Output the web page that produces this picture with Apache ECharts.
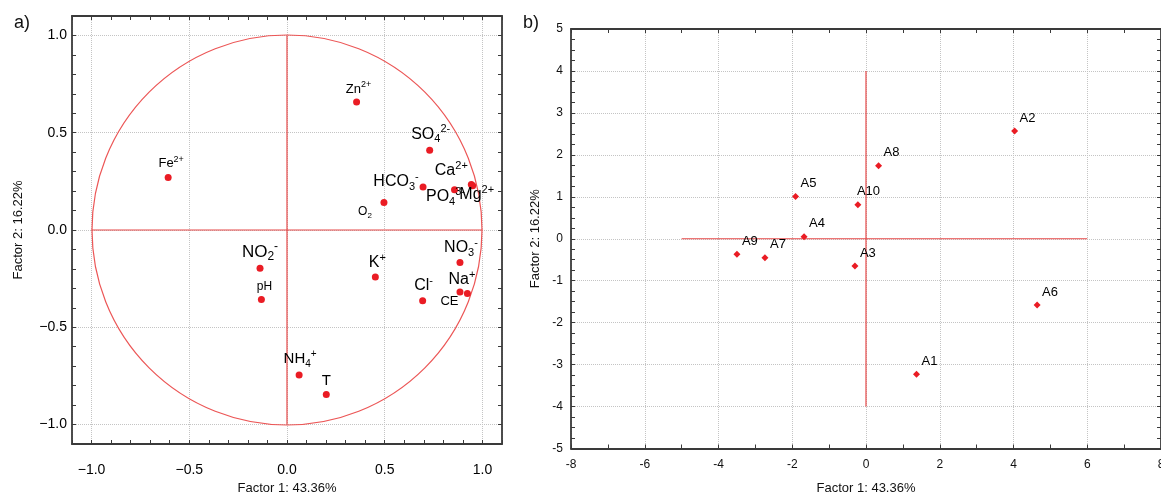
<!DOCTYPE html>
<html>
<head>
<meta charset="utf-8">
<script src="https://cdn.jsdelivr.net/npm/echarts@6/dist/echarts.min.js"></script>
<style>
html,body{margin:0;padding:0;background:#fff;}
#c{width:1161px;height:497px;}
</style>
</head>
<body>
<div id="c"></div>
<script>
// ---------- data (a) factor loadings ----------
const leftNames = ['Zn2+','SO42-','Ca2+','HCO3-','PO43-','Mg2+','O2','Fe2+','NO2-','pH','K+','NO3-','Na+','CE','Cl-','NH4+','T'];
const leftX = [0.356,0.730,0.943,0.696,0.857,0.950,0.496,-0.608,-0.138,-0.131,0.452,0.885,0.885,0.923,0.694,0.062,0.201];
const leftY = [0.658,0.410,0.234,0.221,0.207,0.228,0.141,0.270,-0.196,-0.357,-0.241,-0.167,-0.319,-0.326,-0.364,-0.745,-0.846];
const unitCircle = [[0,0,1]];
const leftHLine = [[-1,0],[1,0]];
const leftVLine = [[0,-1],[0,1]];
// ---------- data (b) factor scores ----------
const rightNames = ['A1','A2','A3','A4','A5','A6','A7','A8','A9','A10'];
const rightX = [1.37,4.03,-0.30,-1.68,-1.91,4.64,-2.74,0.34,-3.50,-0.22];
const rightY = [-3.23,2.57,-0.65,0.05,1.01,-1.58,-0.45,1.74,-0.37,0.81];
const rightHLine = [[-5,0],[6,0]];
const rightVLine = [[0,-4],[0,4]];
const xTitle = 'Factor 1: 43.36%';
const yTitle = 'Factor 2: 16.22%';

// ---------- label styling (text only, not data) ----------
const leftLabelStyle = {
  'Zn2+':  {f:'Zn{sup|2+}', s:13, o:[2,-13]},
  'SO42-': {f:'SO{sub|4}{sup|2-}', s:16, o:[1,-16]},
  'Ca2+':  {f:'Ca{sup|2+}', s:16, o:[-20,-14]},
  'HCO3-': {f:'HCO{sub|3}{sup|-}', s:16, o:[-27,-5]},
  'PO43-': {f:'PO{sub|4}{sup|3-}', s:16, o:[-9,7]},
  'Mg2+':  {f:'Mg{sup|2+}', s:16, o:[4,9]},
  'O2':    {f:'O{sub|2}', s:12, o:[-19,9]},
  'Fe2+':  {f:'Fe{sup|2+}', s:13, o:[3,-14]},
  'NO2-':  {f:'NO{sub|2}{sup|-}', s:17, o:[0,-16]},
  'pH':    {f:'pH', s:12, o:[3,-13]},
  'K+':    {f:'K{sup|+}', s:16, o:[2,-14]},
  'NO3-':  {f:'NO{sub|3}{sup|-}', s:16, o:[1,-15]},
  'Na+':   {f:'Na{sup|+}', s:16, o:[2,-12]},
  'CE':    {f:'CE', s:13, o:[-18,8]},
  'Cl-':   {f:'Cl{sup|-}', s:16, o:[1,-15]},
  'NH4+':  {f:'NH{sub|4}{sup|+}', s:15, o:[1,-16]},
  'T':     {f:'T', s:15, o:[0,-14]}
};
const rightLabelOffset = {'A10':[-1,-13]};

const FONT = '"Liberation Sans", Arial, Helvetica, sans-serif';
const RED = '#ea1c24';
const LINE_RED = '#e64848';
const AXIS = '#3a3a3a';
const GRIDC = '#c4c4c4';
const TXT = '#000';

function fmtLeft(v){
  const r = Math.round(v*2);
  if (Math.abs(v*2 - r) > 1e-6) return '';
  const val = r/2;
  const s = Math.abs(val).toFixed(1);
  return val < 0 ? '\u2212' + s : s;
}

const leftData = leftNames.map((n,i)=>{
  const st = leftLabelStyle[n];
  return {
    name:n,
    value:[leftX[i], leftY[i]],
    label:{
      show:true, position:'inside', formatter:st.f, offset:st.o,
      fontSize:st.s, lineHeight:Math.round(st.s*1.3), color:TXT, fontFamily:FONT,
      rich:{
        sup:{fontSize:Math.round(st.s*0.68), lineHeight:Math.round(st.s*0.62), verticalAlign:'top', color:TXT, fontFamily:FONT},
        sub:{fontSize:Math.round(st.s*0.68), lineHeight:Math.round(st.s*0.62), verticalAlign:'bottom', color:TXT, fontFamily:FONT}
      }
    }
  };
});

const rightData = rightNames.map((n,i)=>({
  name:n,
  value:[rightX[i], rightY[i]],
  label:{show:true, position:'inside', align:'left', verticalAlign:'middle',
    offset:rightLabelOffset[n] || [5,-13], fontSize:13, color:TXT, fontFamily:FONT,
    formatter:'{b}'}
}));

function frameAxis(base){ return Object.assign({
  type:'value', axisLine:{show:true, onZero:false, lineStyle:{color:AXIS, width:1.8}},
  axisTick:{show:true, inside:true, length:4, lineStyle:{color:AXIS, width:1}},
  axisLabel:{show:false}, splitLine:{show:false}
}, base); }

const option = {
  animation:false,
  backgroundColor:'#fff',
  title:[
    {text:'a)', left:9, top:9, textStyle:{fontSize:18, fontWeight:'normal', color:'#111', fontFamily:FONT}},
    {text:'b)', left:518, top:9, textStyle:{fontSize:18, fontWeight:'normal', color:'#111', fontFamily:FONT}}
  ],
  grid:[
    {left:72, right:659, top:16, bottom:53, outerBoundsMode:'none', containLabel:false},
    {left:571, right:0, top:29, bottom:48.5, outerBoundsMode:'none', containLabel:false}
  ],
  xAxis:[
    frameAxis({gridIndex:0, position:'bottom', min:-1.1, max:1.1, interval:0.1,
      axisLabel:{show:true, formatter:fmtLeft, margin:19, fontSize:14, color:TXT, fontFamily:FONT},
      name:xTitle, nameLocation:'middle', nameGap:37,
      nameTextStyle:{fontSize:13, color:'#111', fontFamily:FONT}}),
    frameAxis({gridIndex:0, position:'top', min:-1.1, max:1.1, interval:0.1}),
    {type:'value', gridIndex:0, position:'bottom', min:-1.1, max:1.1, splitNumber:4,
      axisLine:{show:false}, axisTick:{show:false}, axisLabel:{show:false},
      splitLine:{show:true, lineStyle:{color:GRIDC, type:'dotted', width:1}}},
    frameAxis({gridIndex:1, position:'bottom', min:-8, max:8, interval:2,
      minorTick:{show:true, splitNumber:2, length:4, lineStyle:{color:AXIS, width:1}},
      axisLabel:{show:true, margin:10, fontSize:12, color:'#111', fontFamily:FONT},
      splitLine:{show:true, lineStyle:{color:GRIDC, type:'dotted', width:1}},
      name:xTitle, nameLocation:'middle', nameGap:33,
      nameTextStyle:{fontSize:13, color:'#111', fontFamily:FONT}}),
    frameAxis({gridIndex:1, position:'top', min:-8, max:8, interval:1})
  ],
  yAxis:[
    frameAxis({gridIndex:0, position:'left', min:-1.1, max:1.1, interval:0.1,
      axisLabel:{show:true, formatter:fmtLeft, margin:5, fontSize:14, color:TXT, fontFamily:FONT},
      name:yTitle, nameLocation:'middle', nameGap:47, nameRotate:90,
      nameTextStyle:{fontSize:13, color:'#111', fontFamily:FONT}}),
    frameAxis({gridIndex:0, position:'right', min:-1.1, max:1.1, interval:0.1}),
    {type:'value', gridIndex:0, position:'left', min:-1.1, max:1.1, splitNumber:4,
      axisLine:{show:false}, axisTick:{show:false}, axisLabel:{show:false},
      splitLine:{show:true, lineStyle:{color:GRIDC, type:'dotted', width:1}}},
    frameAxis({gridIndex:1, position:'left', min:-5, max:5, interval:1,
      minorTick:{show:true, splitNumber:4, length:4, lineStyle:{color:AXIS, width:1}},
      axisLabel:{show:true, margin:8, fontSize:12, color:'#111', fontFamily:FONT},
      splitLine:{show:true, lineStyle:{color:GRIDC, type:'dotted', width:1}},
      name:yTitle, nameLocation:'middle', nameGap:27, nameRotate:90,
      nameTextStyle:{fontSize:13, color:'#111', fontFamily:FONT}}),
    frameAxis({gridIndex:1, position:'right', min:-5, max:5, interval:1,
      minorTick:{show:true, splitNumber:4, length:4, lineStyle:{color:AXIS, width:1}}})
  ],
  series:[
    {type:'custom', xAxisIndex:0, yAxisIndex:0, data:unitCircle, silent:true, z:2,
      renderItem:function(params, api){
        const c = api.coord([api.value(0), api.value(1)]);
        const s = api.size([api.value(2), api.value(2)]);
        return {type:'circle', shape:{cx:c[0], cy:c[1], r:(s[0]+s[1])/2},
          style:{fill:'none', stroke:'#ec5656', lineWidth:1.2}};
      }},
    {type:'line', xAxisIndex:0, yAxisIndex:0, data:leftHLine, symbol:'none', silent:true,
      lineStyle:{color:LINE_RED, width:1.2}, z:2},
    {type:'line', xAxisIndex:0, yAxisIndex:0, data:leftVLine, symbol:'none', silent:true,
      lineStyle:{color:LINE_RED, width:1.2}, z:2},
    {type:'scatter', xAxisIndex:0, yAxisIndex:0, data:leftData, symbol:'circle', symbolSize:7,
      itemStyle:{color:RED, opacity:1}, z:4},
    {type:'line', xAxisIndex:3, yAxisIndex:3, data:rightHLine, symbol:'none', silent:true,
      lineStyle:{color:LINE_RED, width:1.2}, z:2},
    {type:'line', xAxisIndex:3, yAxisIndex:3, data:rightVLine, symbol:'none', silent:true,
      lineStyle:{color:LINE_RED, width:1.2}, z:2},
    {type:'scatter', xAxisIndex:3, yAxisIndex:3, data:rightData, symbol:'diamond', symbolSize:7,
      itemStyle:{color:RED, opacity:1}, z:4}
  ]
};

const chart = echarts.init(document.getElementById('c'), null, {renderer:'canvas'});
chart.setOption(option);
</script>
</body>
</html>
